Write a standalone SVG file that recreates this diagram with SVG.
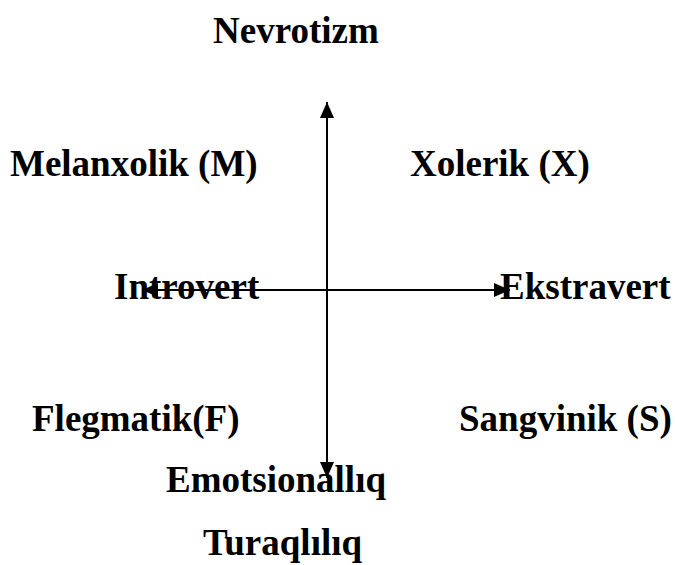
<svg xmlns="http://www.w3.org/2000/svg" width="675" height="565" viewBox="0 0 675 565">
<defs>
<style>
text{font-family:"Liberation Serif","Times New Roman",serif;font-weight:bold;font-size:37px;fill:#000}
.ax{stroke:#000;stroke-width:2;fill:none}
</style>
<marker id="ah" viewBox="0 0 16 14" refX="16" refY="7" markerWidth="16" markerHeight="14" markerUnits="userSpaceOnUse" orient="auto">
<path d="M0,0 L16,7 L0,14 Z" fill="#000"/>
</marker>
</defs>
<rect width="675" height="565" fill="#fff"/>
<g id="connectors">
<line class="ax" x1="327" y1="300" x2="327" y2="102" marker-end="url(#ah)"/>
<line class="ax" x1="327" y1="280" x2="327" y2="478" marker-end="url(#ah)"/>
<line class="ax" x1="327" y1="290" x2="142" y2="290" marker-end="url(#ah)"/>
<line class="ax" x1="327" y1="290" x2="510" y2="290" marker-end="url(#ah)"/>
</g>
<g id="nevrotizm"><text x="213" y="43">Nevrotizm</text></g>
<g id="melanxolik"><text x="10" y="176">Melanxolik (M)</text></g>
<g id="xolerik"><text x="410" y="176">Xolerik (X)</text></g>
<g id="introvert"><text x="114" y="299">Introvert</text></g>
<g id="ekstravert"><text x="500" y="299">Ekstravert</text></g>
<g id="flegmatik"><text x="32" y="431">Flegmatik(F)</text></g>
<g id="sangvinik"><text x="459" y="431">Sangvinik (S)</text></g>
<g id="emotsionalliq"><text x="166" y="492">Emotsionallıq</text></g>
<g id="turaqliliq"><text x="203" y="555">Turaqlılıq</text></g>
</svg>
